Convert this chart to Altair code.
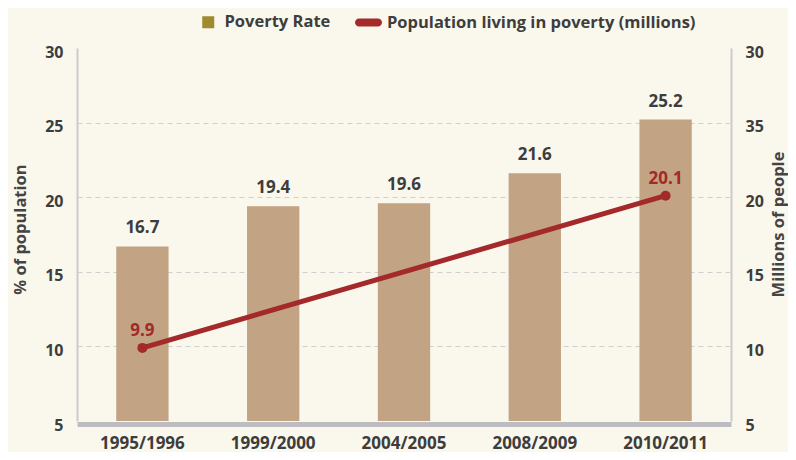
import altair as alt
import pandas as pd

# ---- data ----
years = ["1995/1996", "1999/2000", "2004/2005", "2008/2009", "2010/2011"]
poverty_rate = [16.7, 19.4, 19.6, 21.6, 25.2]
pop_years = ["1995/1996", "2010/2011"]
pop_millions = [9.9, 20.1]
axis_ticks = [5, 10, 15, 20, 25, 30]
legend_rate = ["Poverty Rate"]
legend_pop = ["Population living in poverty (millions)"]

bars_df = pd.DataFrame({"year": years, "rate": poverty_rate,
                        "lg": legend_rate * len(years)})
line_df = pd.DataFrame({"year": pop_years, "millions": pop_millions,
                        "lg": legend_pop * len(pop_years)})

FONT = "Open Sans"
TXT = "#3d3d3d"
BAR = "#C2A383"
LINE = "#A3292A"
LEG_SQ = "#A08A30"
BG = "#FAF7EC"

x_enc = alt.X(
    "year:N", sort=years,
    scale=alt.Scale(paddingInner=0.6, paddingOuter=0.3),
    axis=alt.Axis(title=None, labelAngle=0, domainWidth=5, domainColor="#BDBDC1",
                  offset=3, ticks=False, tickSize=0, labelPadding=11,
                  labelFontSize=17, labelFont=FONT, labelFontWeight="bold",
                  labelColor=TXT, grid=False),
)

left_axis = alt.Axis(
    values=axis_ticks, title="% of population", grid=True,
    gridDash=[5, 4], gridColor="#CFCFCF", gridWidth=1,
    gridOpacity={"condition": {"test": "datum.value === 30 || datum.value === 5", "value": 0},
                 "value": 1},
    ticks=False, tickSize=0, domainColor="#CBCBCB", domainWidth=2,
    labelFont=FONT, labelFontSize=16, labelFontWeight="bold", labelColor=TXT,
    labelPadding=14, labelOffset=4,
    titleFont=FONT, titleFontSize=16.5, titleFontWeight="bold", titleColor="#444444",
    titleAngle=270, titleX=-57, titleY=181, titleAlign="center", titleBaseline="middle",
)

right_axis = alt.Axis(
    orient="right", values=axis_ticks, grid=False,
    labelExpr="datum.value == 25 ? '35' : datum.label",
    title="Millions of people",
    ticks=False, tickSize=0, domainColor="#CBCBCB", domainWidth=2,
    labelFont=FONT, labelFontSize=16, labelFontWeight="bold", labelColor=TXT,
    labelPadding=14, labelOffset=4,
    titleFont=FONT, titleFontSize=16.5, titleFontWeight="bold", titleColor="#444444",
    titleAngle=270, titleX=47, titleY=176, titleAlign="center", titleBaseline="middle",
)

y_left = alt.Y("rate:Q", scale=alt.Scale(domain=[5, 30], nice=False, zero=False),
               axis=left_axis)
y_right = alt.Y("millions:Q", scale=alt.Scale(domain=[5, 30], nice=False, zero=False),
                axis=right_axis)

bars = alt.Chart(bars_df).mark_bar(color=BAR).encode(
    x=x_enc, y=y_left, y2=alt.datum(5))

bar_text = alt.Chart(bars_df).mark_text(
    dy=-18, font=FONT, fontSize=17, fontWeight="bold", color=TXT, baseline="middle"
).encode(x=x_enc, y=y_left, text=alt.Text("rate:Q", format=".1f"))

legend1 = alt.Chart(bars_df).mark_square(opacity=0).encode(
    x=x_enc, y=y_left,
    color=alt.Color("lg:N", scale=alt.Scale(domain=legend_rate, range=[LEG_SQ]),
                    legend=alt.Legend(title=None, orient="none", legendX=123, legendY=-34,
                                      padding=0, symbolType="square", symbolSize=144,
                                      symbolOpacity=1, symbolStrokeWidth=0,
                                      labelFont=FONT, labelFontSize=16.5,
                                      labelFontWeight="bold", labelColor=TXT,
                                      labelOffset=8, labelLimit=500)))

line = alt.Chart(line_df).mark_line(color=LINE, strokeWidth=5).encode(
    x=x_enc, y=y_right)
points = alt.Chart(line_df).mark_circle(color=LINE, size=100, opacity=1).encode(
    x=x_enc, y=y_right)
line_text = alt.Chart(line_df).mark_text(
    dy=-17, font=FONT, fontSize=17, fontWeight="bold", color=LINE, baseline="middle"
).encode(x=x_enc, y=y_right, text=alt.Text("millions:Q", format=".1f"))

pill = ("M-0.7,-0.3 L0.7,-0.3 A0.3,0.3 0 0 1 0.7,0.3 "
        "L-0.7,0.3 A0.3,0.3 0 0 1 -0.7,-0.3 Z")
legend2 = alt.Chart(line_df).mark_square(opacity=0).encode(
    x=x_enc, y=y_right,
    fill=alt.Fill("lg:N", scale=alt.Scale(domain=legend_pop, range=[LINE]),
                  legend=alt.Legend(title=None, orient="none", legendX=278, legendY=-39,
                                    padding=0, symbolType=pill, symbolSize=729,
                                    symbolOpacity=1, symbolStrokeWidth=0,
                                    labelFont=FONT, labelFontSize=16.5,
                                    labelFontWeight="bold", labelColor=TXT,
                                    labelOffset=5, labelLimit=500)))

left = alt.layer(bars, bar_text, legend1)
right = alt.layer(line, points, line_text, legend2)

chart = alt.layer(left, right).resolve_scale(y="independent").properties(
    width=654, height=373, autosize="none",
    padding={"left": 69, "top": 40, "right": 57, "bottom": 31},
    background=BG,
).configure_view(stroke=None)

chart.save("out.html", embed_options={"renderer": "svg", "actions": False})
